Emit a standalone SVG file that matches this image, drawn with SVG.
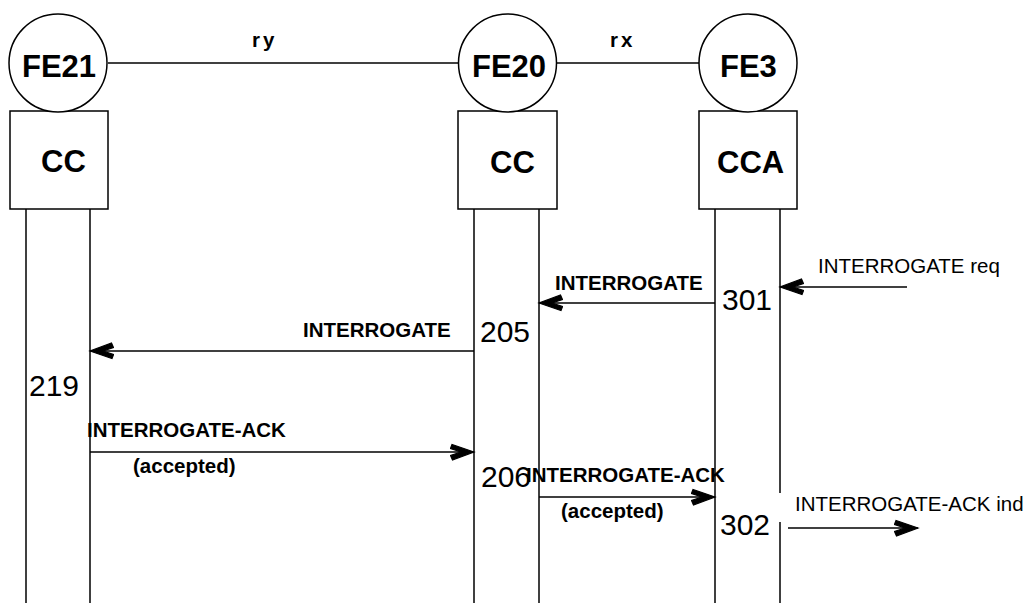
<svg xmlns="http://www.w3.org/2000/svg" width="1035" height="603" viewBox="0 0 1035 603">
<style>
.sh{fill:#fff;stroke:#000;stroke-width:1.5}
.ln{stroke:#000;stroke-width:1.5;fill:none}
.msg{stroke:#000;stroke-width:1.5;fill:none;marker-end:url(#ah)}
.big{font-family:"Liberation Sans",Arial,sans-serif;font-weight:bold;font-size:31px}
.lb{font-family:"Liberation Sans",Arial,sans-serif;font-weight:bold;font-size:20.5px}
.rg{font-family:"Liberation Sans",Arial,sans-serif;font-size:20.5px}
.num{font-family:"Liberation Sans",Arial,sans-serif;font-size:30px}
</style>
<defs>
<marker id="ah" markerUnits="userSpaceOnUse" markerWidth="26" markerHeight="20" refX="24" refY="10" orient="auto" viewBox="0 0 26 20">
<path d="M24,10 L2,2.5 L0.5,6.5 L11,10 L0.5,13.5 L2.5,18 Z" fill="#000" stroke="#000" stroke-width="1.2"/>
</marker>
</defs>
<rect width="1035" height="603" fill="#fff"/>
<g id="connectors">
<line class="ln" x1="108" y1="63" x2="458" y2="63"/>
<line class="ln" x1="557" y1="63" x2="699" y2="63"/>
<line class="ln" x1="26" y1="209" x2="26" y2="603"/>
<line class="ln" x1="90" y1="209" x2="90" y2="603"/>
<line class="ln" x1="474" y1="209" x2="474" y2="603"/>
<line class="ln" x1="539" y1="209" x2="539" y2="603"/>
<line class="ln" x1="715" y1="209" x2="715" y2="603"/>
<line class="ln" x1="780" y1="209" x2="780" y2="493"/>
<line class="ln" x1="780" y1="522" x2="780" y2="603"/>
<line class="msg" x1="907" y1="287" x2="780" y2="287"/>
<line class="msg" x1="715" y1="303" x2="539" y2="303"/>
<line class="msg" x1="474" y1="351" x2="90" y2="351"/>
<line class="msg" x1="90" y1="452" x2="474" y2="452"/>
<line class="msg" x1="539" y1="497" x2="715" y2="497"/>
<line class="msg" x1="788" y1="528" x2="918" y2="528"/>
</g>
<g id="FE21">
<rect class="sh" x="10" y="111" width="98" height="98"/>
<circle class="sh" cx="58" cy="63" r="49"/>
<text class="big" x="22" y="77">FE21</text>
<text class="big" x="41" y="172">CC</text>
</g>
<g id="FE20">
<rect class="sh" x="458" y="111" width="99" height="98"/>
<circle class="sh" cx="507.5" cy="63" r="49"/>
<text class="big" x="472" y="77">FE20</text>
<text class="big" x="490" y="173">CC</text>
</g>
<g id="FE3">
<rect class="sh" x="699" y="111" width="98" height="98"/>
<circle class="sh" cx="748" cy="63" r="49"/>
<text class="big" x="720" y="77">FE3</text>
<text class="big" x="717" y="173">CCA</text>
</g>
<g id="labels">
<text class="lb" x="252" y="47" letter-spacing="3">ry</text>
<text class="lb" x="610" y="47" letter-spacing="3">rx</text>
<text class="rg" x="818" y="273">INTERROGATE req</text>
<text class="lb" x="555" y="290">INTERROGATE</text>
<text class="num" x="722" y="310">301</text>
<text class="lb" x="303" y="337">INTERROGATE</text>
<text class="num" x="480" y="342">205</text>
<text class="num" x="29" y="396">219</text>
<text class="lb" x="87" y="437">INTERROGATE-ACK</text>
<text class="lb" x="133" y="473">(accepted)</text>
<text class="num" x="481" y="487">206</text>
<text class="lb" x="526" y="482">INTERROGATE-ACK</text>
<text class="lb" x="561" y="518">(accepted)</text>
<text class="num" x="720" y="535">302</text>
<text class="rg" x="795" y="511">INTERROGATE-ACK ind</text>
</g>
</svg>
